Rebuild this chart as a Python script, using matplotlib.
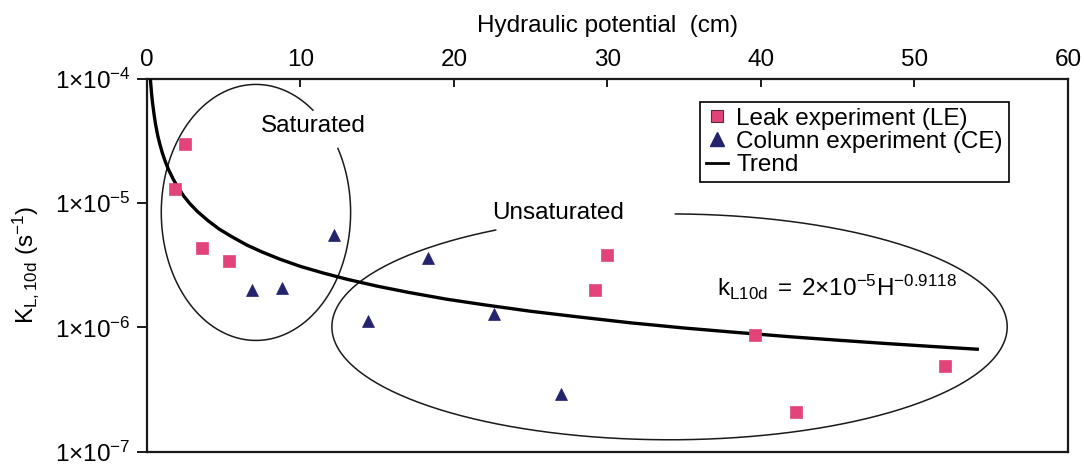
import numpy as np
import matplotlib
matplotlib.use('Agg')
import matplotlib.pyplot as plt
from matplotlib.lines import Line2D
from matplotlib.ticker import FixedLocator, FixedFormatter, NullLocator

plt.rcParams['font.family'] = ['Liberation Sans', 'DejaVu Sans']
plt.rcParams['mathtext.fontset'] = 'custom'
plt.rcParams['mathtext.rm'] = 'Liberation Sans'
plt.rcParams['mathtext.it'] = 'Liberation Sans:italic'
plt.rcParams['mathtext.bf'] = 'Liberation Sans:bold'
plt.rcParams['mathtext.sf'] = 'Liberation Sans'

# ---------------- data ----------------
le_h = [2.46, 1.81, 3.61, 5.33, 30.0, 29.2, 39.6, 52.0, 42.3]
le_k = [3.0e-5, 1.29e-5, 4.4e-6, 3.4e-6, 3.8e-6, 2.0e-6, 8.7e-7, 4.9e-7, 2.1e-7]

ce_h = [12.2, 6.86, 8.8, 18.3, 14.4, 22.6, 27.0]
ce_k = [5.5e-6, 2.0e-6, 2.07e-6, 3.6e-6, 1.12e-6, 1.29e-6, 2.9e-7]

trend_h = [0.22, 0.25, 0.3, 0.35, 0.45, 0.55, 0.7, 0.85, 1.0, 1.2, 1.4, 1.7, 2.0,
           2.4, 2.8, 3.3, 4.0, 4.7, 5.5, 6.5, 7.5, 8.7, 10, 11.5, 13, 15, 17, 19.5,
           22, 25, 28, 31.5, 35, 38.5, 42, 45, 48, 51, 54.2]
trend_k = [1.0e-4, 9.0e-5, 7.6e-5, 6.6e-5, 5.3e-5, 4.38e-5, 3.5e-5, 2.95e-5, 2.54e-5,
           2.15e-5, 1.87e-5, 1.57e-5, 1.35e-5, 1.14e-5, 9.9e-6, 8.55e-6, 7.2e-6,
           6.2e-6, 5.4e-6, 4.61e-6, 4.05e-6, 3.53e-6, 3.1e-6, 2.74e-6, 2.45e-6,
           2.15e-6, 1.92e-6, 1.69e-6, 1.52e-6, 1.35e-6, 1.22e-6, 1.09e-6, 9.9e-7,
           9.1e-7, 8.4e-7, 7.9e-7, 7.45e-7, 7.05e-7, 6.67e-7]

x_ticks = [0, 10, 20, 30, 40, 50, 60]
x_tick_labels = ['0', '10', '20', '30', '40', '50', '60']
y_ticks = [1e-7, 1e-6, 1e-5, 1e-4]
y_tick_labels = [r'$\mathregular{1{\times}10^{-7}}$', r'$\mathregular{1{\times}10^{-6}}$',
                 r'$\mathregular{1{\times}10^{-5}}$', r'$\mathregular{1{\times}10^{-4}}$']

legend_labels = ['Leak experiment (LE)', 'Column experiment (CE)', 'Trend']

# ---------------- styling ----------------
PINK = '#E2437A'
NAVY = '#23236E'
DARK = '#1a1a1a'
FS = 17.5

fig = plt.figure(figsize=(10.84, 4.65), dpi=100)
ax = fig.add_axes([0.1356, 0.0286, 0.8496, 0.8015])

ax.set_yscale('log')
ax.set_xlim(0, 60)
ax.set_ylim(1e-7, 1e-4)

# trend line
ax.plot(trend_h, trend_k, color='black', lw=2.4, zorder=3, solid_capstyle='butt',
        solid_joinstyle='round')

# data markers
ax.plot(le_h, le_k, ls='none', marker='s', ms=8.5, mfc=PINK, mec=PINK, mew=0.5, zorder=4)
ax.plot(ce_h, ce_k, ls='none', marker='^', ms=9, mfc=NAVY, mec=NAVY, mew=0.5, zorder=4)

# ellipses (drawn in axes-fraction coordinates, with gaps for labels)
def ellipse_arc(cx, cy, w, h, t1, t2):
    t = np.deg2rad(np.linspace(t1, t2, 400))
    ax.plot(cx + w / 2 * np.cos(t), cy + h / 2 * np.sin(t), transform=ax.transAxes,
            color=DARK, lw=1.1, zorder=2)

ellipse_arc(0.1183, 0.642, 0.2056, 0.687, 53, 390)
ellipse_arc(0.5674, 0.335, 0.7333, 0.606, 121, 449)

ax.text(0.181, 0.8726, 'Saturated', transform=ax.transAxes, ha='center', va='center',
        fontsize=FS)
ax.text(0.446, 0.6395, 'Unsaturated', transform=ax.transAxes, ha='center', va='center',
        fontsize=FS)
ax.text(0.7497, 0.4187,
        r'$\mathregular{k_{L10d}\;=\;2{\times}10^{-5}H^{-0.9118}}$',
        transform=ax.transAxes, ha='center', va='baseline', fontsize=FS)

# axes
ax.xaxis.tick_top()
ax.xaxis.set_label_position('top')
ax.xaxis.set_major_locator(FixedLocator(x_ticks))
ax.xaxis.set_major_formatter(FixedFormatter(x_tick_labels))
ax.yaxis.set_major_locator(FixedLocator(y_ticks))
ax.yaxis.set_major_formatter(FixedFormatter(y_tick_labels))
ax.yaxis.set_minor_locator(NullLocator())
ax.xaxis.set_minor_locator(NullLocator())

ax.tick_params(axis='x', direction='in', length=6, width=1.4, pad=6, labelsize=FS,
               color=DARK)
ax.tick_params(axis='y', direction='out', length=7, width=1.4, pad=5, labelsize=FS,
               color=DARK)
for s in ax.spines.values():
    s.set_linewidth(1.6)
    s.set_color(DARK)

ax.set_xlabel('Hydraulic potential  (cm)', fontsize=FS, labelpad=12)
ax.set_ylabel(r'K$_{\mathregular{L,10d}}$ (s$^{\mathregular{-1}}$)', fontsize=FS, labelpad=10)

handles = [
    Line2D([], [], ls='none', marker='s', ms=9, mfc=PINK, mec='#55303c', mew=0.8),
    Line2D([], [], ls='none', marker='^', ms=10, mfc=NAVY, mec=NAVY),
    Line2D([], [], color='black', lw=2),
]
leg = ax.legend(handles, legend_labels, loc='upper left', bbox_to_anchor=(0.6005, 0.9394),
                bbox_transform=ax.transAxes, borderaxespad=0, fancybox=False,
                edgecolor='black', framealpha=1, fontsize=FS, handlelength=0.9,
                handletextpad=0.35, labelspacing=0.05, borderpad=0.25)
leg.get_frame().set_linewidth(1.2)

fig.savefig('out.png', dpi=100)
